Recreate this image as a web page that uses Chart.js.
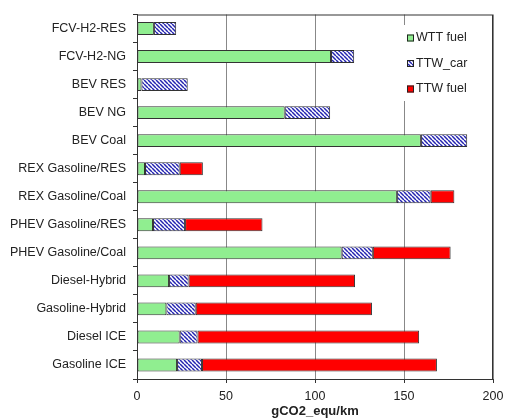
<!DOCTYPE html>
<html>
<head>
<meta charset="utf-8">
<script src="https://cdn.jsdelivr.net/npm/chart.js@4.4.0/dist/chart.umd.min.js"></script>
<style>
  html, body { margin: 0; padding: 0; background: #fff; }
</style>
</head>
<body>
<canvas id="chart" width="512" height="420"></canvas>
<script>
// Categories, top to bottom
var categories = [
  'FCV-H2-RES', 'FCV-H2-NG', 'BEV RES', 'BEV NG', 'BEV Coal',
  'REX Gasoline/RES', 'REX Gasoline/Coal', 'PHEV Gasoline/RES', 'PHEV Gasoline/Coal',
  'Diesel-Hybrid', 'Gasoline-Hybrid', 'Diesel ICE', 'Gasoline ICE'
];
var wttFuel = [9.5, 109, 2.5, 83, 159.5, 4.5, 146, 9, 115, 18, 16.5, 24, 22.5];
var ttwCar  = [12.5, 13, 26, 25.5, 26, 19.5, 19, 18, 17.5, 11, 16.5, 10, 14];
var ttwFuel = [0, 0, 0, 0, 0, 13, 13.3, 43.5, 43.7, 93.5, 99, 124.5, 132];
var xTicks = [0, 50, 100, 150, 200];

// hatch pattern for TTW_car
function hatch() {
  var c = document.createElement('canvas');
  c.width = 4; c.height = 4;
  var g = c.getContext('2d');
  g.fillStyle = '#fff';
  g.fillRect(0, 0, 4, 4);
  g.strokeStyle = '#2424b0';
  g.lineWidth = 1.5;
  [-4, 0, 4].forEach(function (k) {
    g.beginPath();
    g.moveTo(k, 0);
    g.lineTo(k + 4, 4);
    g.stroke();
  });
  return g.createPattern(c, 'repeat');
}

var font = "'Liberation Sans', Arial, sans-serif";
Chart.defaults.font.family = font;
Chart.defaults.color = '#222';

// legend drawn inside the plot area, top right
var boxLegend = {
  id: 'boxLegend',
  afterDraw: function (chart) {
    var ctx = chart.ctx;
    var a = chart.chartArea;
    ctx.save();
    ctx.strokeStyle = '#333';
    ctx.lineWidth = 1;
    ctx.strokeRect(a.left + 0.5, a.top + 0.5, a.right - a.left - 1, a.bottom - a.top);
    ctx.fillStyle = '#fff';
    ctx.fillRect(400, 25, 76, 76);
    ctx.font = '12.5px ' + font;
    ctx.textBaseline = 'middle';
    chart.data.datasets.forEach(function (ds, i) {
      var y = 38 + i * 25.5;
      ctx.fillStyle = ds.backgroundColor;
      ctx.fillRect(407, y - 3.5, 7, 7);
      ctx.strokeStyle = '#222';
      ctx.strokeRect(407.5, y - 3, 6, 6);
      ctx.fillStyle = '#222';
      ctx.fillText(ds.label, 416, y);
    });
    ctx.restore();
  }
};

var common = { borderColor: '#333', borderWidth: 1, borderSkipped: false, barPercentage: 0.9, categoryPercentage: 0.51 };

new Chart(document.getElementById('chart'), {
  type: 'bar',
  data: {
    labels: categories,
    datasets: [
      Object.assign({ label: 'WTT fuel', data: wttFuel, backgroundColor: '#90ee90' }, common),
      Object.assign({ label: 'TTW_car', data: ttwCar, backgroundColor: hatch() }, common),
      Object.assign({ label: 'TTW fuel', data: ttwFuel, backgroundColor: '#ff0000' }, common)
    ]
  },
  options: {
    indexAxis: 'y',
    responsive: false,
    animation: false,
    layout: { padding: { top: 9, right: 19, left: 0, bottom: 0 } },
    plugins: { legend: { display: false }, tooltip: { enabled: false } },
    scales: {
      x: {
        stacked: true,
        min: 0, max: 200,
        afterBuildTicks: function (s) { s.ticks = xTicks.map(function (v) { return { value: v }; }); },
        grid: { color: '#888', tickLength: 4, tickColor: '#333' },
        border: { color: '#333' },
        ticks: { font: { size: 12.5 }, color: '#222', padding: 6 },
        title: { display: true, text: 'gCO2_equ/km', font: { size: 13, weight: 'bold' }, color: '#222', padding: { top: 0, bottom: 1 } },
        afterFit: function (s) { s.height = 41; }
      },
      y: {
        stacked: true,
        grid: { drawOnChartArea: false, offset: true, tickLength: 4, tickColor: '#333' },
        border: { color: '#333' },
        ticks: { font: { size: 12.5 }, color: '#222', padding: 7 },
        afterFit: function (s) { s.width = 137; }
      }
    }
  },
  plugins: [boxLegend]
});
</script>
</body>
</html>
